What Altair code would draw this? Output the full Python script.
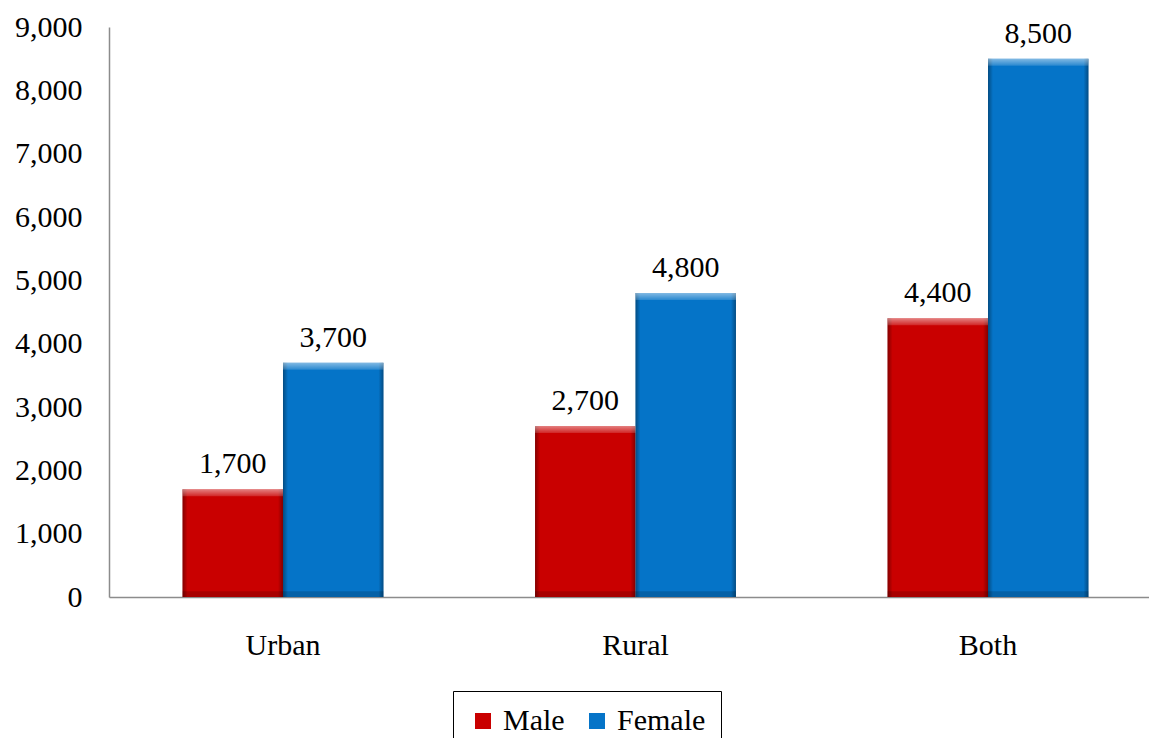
import altair as alt
import pandas as pd

# Population by area and sex
regions = ["Urban", "Rural", "Both"]
sexes = ["Male", "Female"]
male = [1700, 2700, 4400]
female = [3700, 4800, 8500]
y_ticks = [0, 1000, 2000, 3000, 4000, 5000, 6000, 7000, 8000, 9000]

RED = "#C90000"
BLUE = "#0574C8"
FONT = "Liberation Serif"
FSIZE = 30

rows = []
for r, m, f in zip(regions, male, female):
    rows.append({"region": r, "sex": "Male", "value": m})
    rows.append({"region": r, "sex": "Female", "value": f})
df = pd.DataFrame(rows)

x_enc = alt.X(
    "region:N",
    sort=regions,
    scale=alt.Scale(range=[0, 1053], paddingInner=0.43, paddingOuter=0.2086),
    axis=alt.Axis(
        title=None,
        labelAngle=0,
        ticks=False,
        labelPadding=33,
        labelFont=FONT,
        labelFontSize=FSIZE,
        labelColor="#000000",
        domainColor="#8c8c8c",
        domainWidth=1.5,
    ),
)
xo_enc = alt.XOffset(
    "sex:N", sort=sexes, scale=alt.Scale(paddingInner=0, paddingOuter=0)
)
y_scale = alt.Scale(domain=[0, 9000], nice=False)
y_axis = alt.Axis(
    title=None,
    values=y_ticks,
    format=",d",
    ticks=False,
    grid=False,
    labelPadding=27,
    labelFont=FONT,
    labelFontSize=FSIZE,
    labelColor="#000000",
    domainColor="#8c8c8c",
    domainWidth=1.5,
)

base = alt.Chart(df).encode(x=x_enc, xOffset=xo_enc)

bars = base.mark_bar().encode(
    y=alt.Y("value:Q", scale=y_scale, axis=y_axis),
    color=alt.Color(
        "sex:N",
        sort=sexes,
        scale=alt.Scale(domain=sexes, range=[RED, BLUE]),
        legend=alt.Legend(
            title=None,
            orient="none",
            direction="horizontal",
            legendX=344,
            legendY=664,
            symbolType="square",
            symbolSize=256,
            symbolStrokeWidth=0,
            symbolOpacity=1,
            labelFont=FONT,
            labelFontSize=FSIZE,
            labelColor="#000000",
            labelOffset=5,
            columnPadding=17,
            padding=15,
            strokeColor="#000000",
            cornerRadius=0,
        ),
    ),
)

# darker left and right edges of each bar
side_shade = alt.Gradient(
    gradient="linear",
    x1=0, x2=1, y1=0, y2=0,
    stops=[
        alt.GradientStop(color="rgba(0,0,0,0.35)", offset=0),
        alt.GradientStop(color="rgba(0,0,0,0.0)", offset=0.05),
        alt.GradientStop(color="rgba(0,0,0,0.0)", offset=0.95),
        alt.GradientStop(color="rgba(0,0,0,0.35)", offset=1),
    ],
)
sides = base.mark_bar(color=side_shade).encode(
    y=alt.Y("value:Q", scale=y_scale, axis=y_axis)
)

# bevel highlight along the top of each bar
top_shine = alt.Gradient(
    gradient="linear",
    x1=0, x2=0, y1=0, y2=1,
    stops=[
        alt.GradientStop(color="rgba(255,255,255,0.5)", offset=0),
        alt.GradientStop(color="rgba(255,255,255,0.15)", offset=1),
    ],
)
top = (
    base.mark_bar(color=top_shine)
    .transform_calculate(lo="datum.value - 110")
    .encode(
        y=alt.Y("value:Q", scale=y_scale, axis=y_axis),
        y2="lo:Q",
    )
)

# darker bevel along the bottom
bottom = (
    base.mark_bar(color="rgba(0,0,0,0.16)")
    .transform_calculate(hi="90", zero="0")
    .encode(
        y=alt.Y("hi:Q", scale=y_scale, axis=y_axis),
        y2="zero:Q",
    )
)

labels = base.mark_text(
    font=FONT, fontSize=FSIZE, baseline="alphabetic", dy=-16, color="#000000"
).encode(
    y=alt.Y("value:Q", scale=y_scale, axis=y_axis),
    text=alt.Text("value:Q", format=",d"),
)

chart = (
    alt.layer(bars, sides, top, bottom, labels)
    .properties(
        width=1040,
        height=570,
        autosize=alt.AutoSizeParams(type="none"),
        padding={"left": 109, "top": 27, "right": 0, "bottom": 141},
        background="#ffffff",
    )
    .configure_view(stroke=None)
)

chart.save("out.html", embed_options={"renderer": "svg", "actions": False})
